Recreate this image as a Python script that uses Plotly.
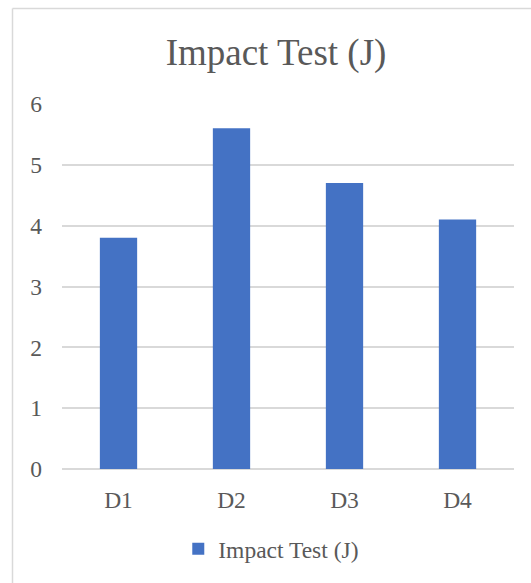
import plotly.graph_objects as go

categories = ["D1", "D2", "D3", "D4"]
impact_values = [3.8, 5.6, 4.7, 4.1]
series_name = "Impact Test (J)"
y_ticks = [0, 1, 2, 3, 4, 5, 6]

font_family = "Liberation Serif, Times New Roman, serif"
text_color = "#595959"
grid_color = "#D9D9D9"
bar_color = "#4472C4"

fig = go.Figure(
    go.Bar(
        x=categories,
        y=impact_values,
        name=series_name,
        marker=dict(color=bar_color, line=dict(width=0)),
        showlegend=True,
    )
)

fig.update_layout(
    width=531,
    height=583,
    margin=dict(l=62, r=17, t=104, b=114),
    paper_bgcolor="white",
    plot_bgcolor="white",
    bargap=0.67,
    font=dict(family=font_family, color=text_color),
    title=dict(
        text="Impact Test (J)",
        x=276 / 531,
        xanchor="center",
        y=1 - 52 / 583,
        yref="container",
        yanchor="middle",
        font=dict(size=37, color=text_color, family=font_family),
    ),
    legend=dict(
        orientation="h",
        x=0.463,
        xanchor="center",
        y=-0.219,
        yanchor="middle",
        font=dict(size=23.5, color=text_color, family=font_family),
        itemwidth=30,
    ),
    xaxis=dict(
        showgrid=False,
        showline=False,
        ticks="",
        tickfont=dict(size=23.5, color=text_color),
        ticklabelstandoff=14,
    ),
    yaxis=dict(
        range=[0, 6],
        tickvals=y_ticks,
        showgrid=True,
        gridcolor=grid_color,
        gridwidth=1.5,
        zeroline=True,
        zerolinecolor=grid_color,
        zerolinewidth=1.5,
        showline=False,
        ticks="",
        tickfont=dict(size=23.5, color=text_color),
        ticklabelstandoff=19,
    ),
    shapes=[
        # chart frame: top and left edges
        dict(type="line", xref="paper", yref="paper",
             x0=(12.5 - 62) / 452, x1=1.2, y0=(469 - 8.5) / 365, y1=(469 - 8.5) / 365,
             line=dict(color="#D9D9D9", width=1.5)),
        dict(type="line", xref="paper", yref="paper",
             x0=(12.5 - 62) / 452, x1=(12.5 - 62) / 452, y0=(469 - 8.5) / 365, y1=-0.5,
             line=dict(color="#D9D9D9", width=1.5)),
    ],
)

fig.write_html("out.html")
